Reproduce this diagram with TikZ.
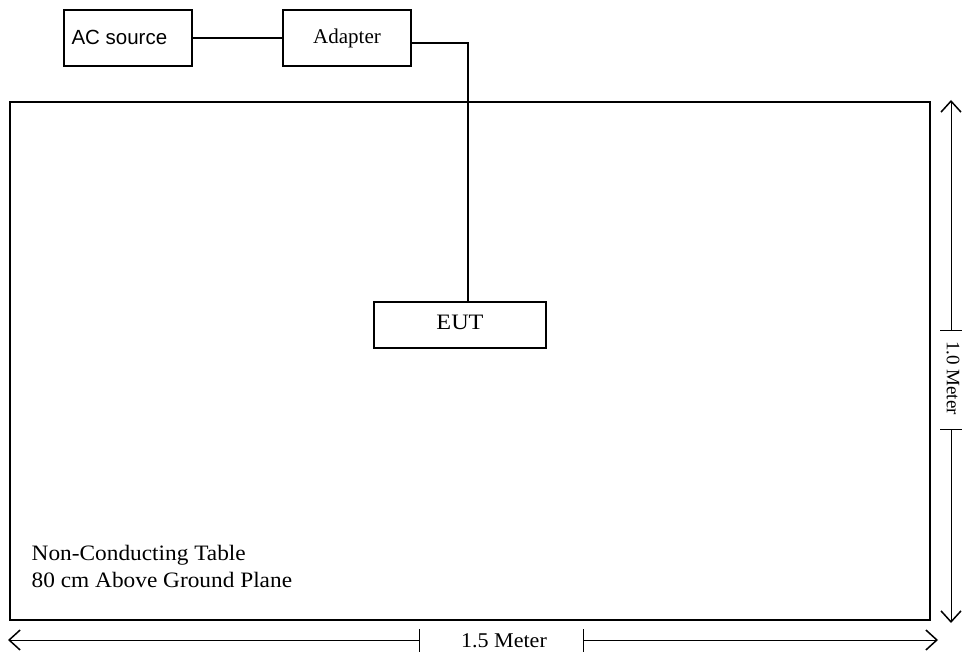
\documentclass[tikz,border=0pt]{standalone}
\usepackage{fontspec}
\setmainfont{Liberation Serif}
\newfontfamily\arialfont{Liberation Sans}
\usetikzlibrary{arrows.meta}
\begin{document}
\begin{tikzpicture}[x=1pt,y=-1pt,
  unitBox/.style={rectangle, draw, line width=1.2pt, inner sep=0pt, font=\fontsize{21}{24}\selectfont},
  dimArrow/.style={line width=1pt, -{Straight Barb[length=11pt,width=20pt,line width=1.5pt]}},
  tableText/.style={anchor=west, xscale=1.06, font=\fontsize{22}{25}\selectfont}
]
\useasboundingbox (0,0) rectangle (964,658);
% table
\draw[line width=2.2pt] (10,102) rectangle (930,620);
% boxes
\node[unitBox, minimum width=128pt, minimum height=56pt] (acsrc) at (128,38){};
\node[anchor=west, font=\arialfont\fontsize{20.5}{23}\selectfont] at (68,37){AC source};
\node[unitBox, minimum width=128pt, minimum height=56pt] (adapter) at (347,38){Adapter};
\node[unitBox, minimum width=172pt, minimum height=46pt] (eut) at (460,325){};
\node[xscale=1.1, font=\fontsize{22}{24}\selectfont] at (460,322){EUT};
% cables
\draw[line width=1.1pt] (acsrc.east)--(adapter.west);
\draw[line width=1.1pt] (adapter.east |- 0,43)-|(eut.north -| 468,0);
\node[tableText] at (28,555){Non-Conducting Table};
\node[tableText] at (28,580){80 cm Above Ground Plane};
% 1.5 Meter
\draw[dimArrow] (419,640)--(8,640);
\draw[dimArrow] (583,640)--(938,640);
\draw[line width=1pt] (419,629)--(419,652);
\draw[line width=1pt] (583,629)--(583,652);
\node[xscale=1.05, font=\fontsize{21}{23}\selectfont] at (504,641){1.5 Meter};
% 1.0 Meter
\draw[dimArrow] (951,330)--(951,100);
\draw[dimArrow] (951,429)--(951,623);
\draw[line width=1pt] (940,330)--(962,330);
\draw[line width=1pt] (940,429)--(962,429);
\node[rotate=-90, inner sep=1pt, font=\fontsize{19}{21}\selectfont] at (953,378){1.0 Meter};
\end{tikzpicture}
\end{document}
